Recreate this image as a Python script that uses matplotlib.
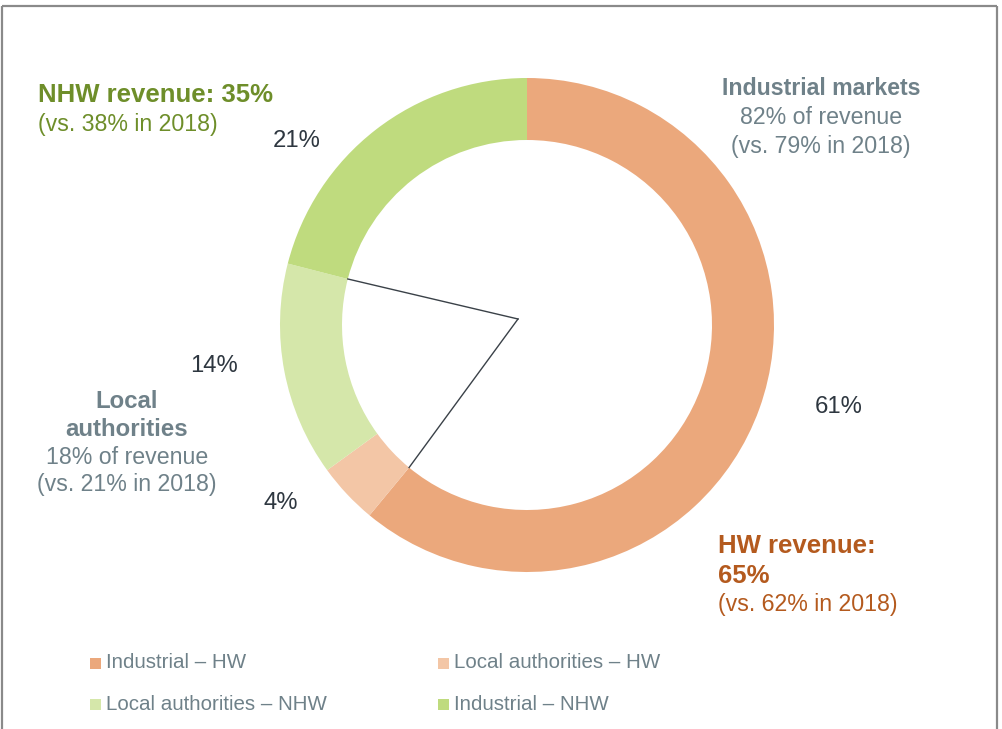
import matplotlib
matplotlib.use("Agg")
import matplotlib.pyplot as plt
from matplotlib.patches import Rectangle
import numpy as np

plt.rcParams['font.family'] = ['Liberation Sans', 'DejaVu Sans']

categories = ["Industrial – HW", "Local authorities – HW", "Local authorities – NHW", "Industrial – NHW"]
values = [61, 4, 14, 21]
colors = ["#EBA87C", "#F3C6A6", "#D5E7AA", "#BFDB7E"]
pct_labels = ["61%", "4%", "14%", "21%"]

W, H = 1002, 729
fig = plt.figure(figsize=(W / 100, H / 100), dpi=100)
ax = fig.add_axes([0, 0, 1, 1])
ax.axis("off")

def Y(py):
    return H - py

cx, cy, R, ring = 527, Y(325), 247, 62
wedges, _ = ax.pie(values, colors=colors, startangle=90, counterclock=False,
                   radius=R, center=(cx, cy),
                   wedgeprops=dict(width=ring, linewidth=0))
ax.set_xlim(0, W)
ax.set_ylim(0, H)
ax.set_aspect("auto")

# percentage labels
pct_pos = [(839, 407), (281, 503), (214, 366), (297, 141)]
for t, (px, py) in zip(pct_labels, pct_pos):
    ax.text(px, Y(py), t, ha="center", va="center", fontsize=17.2, color="#2E3740")

# connector lines for Local authorities segment
rin = R - ring
start = 90 - 360 * (values[0]) / 100
end = 90 - 360 * (values[0] + values[1] + values[2]) / 100
hub = (518, Y(319))
for a in (start, end):
    ex = cx + rin * np.cos(np.radians(a))
    ey = cy + rin * np.sin(np.radians(a))
    ax.plot([hub[0], ex], [hub[1], ey], color="#3A4148", lw=1.0)

gray = "#6F8189"
green = "#6E8E2A"
brown = "#B45A1E"
fs = 16.7
fsb = 18.5

ax.text(38, Y(95), "NHW revenue: 35%", ha="left", va="center", fontsize=fsb, fontweight="bold", color=green)
ax.text(38, Y(124), "(vs. 38% in 2018)", ha="left", va="center", fontsize=fs, color=green)

ax.text(821, Y(88), "Industrial markets", ha="center", va="center", fontsize=fs, fontweight="bold", color=gray)
ax.text(821, Y(117), "82% of revenue", ha="center", va="center", fontsize=fs, color=gray)
ax.text(821, Y(146), "(vs. 79% in 2018)", ha="center", va="center", fontsize=fs, color=gray)

ax.text(127, Y(401), "Local", ha="center", va="center", fontsize=17.3, fontweight="bold", color=gray)
ax.text(127, Y(429), "authorities", ha="center", va="center", fontsize=17.3, fontweight="bold", color=gray)
ax.text(127, Y(457), "18% of revenue", ha="center", va="center", fontsize=fs, color=gray)
ax.text(127, Y(484), "(vs. 21% in 2018)", ha="center", va="center", fontsize=fs, color=gray)

ax.text(718, Y(546), "HW revenue:", ha="left", va="center", fontsize=fsb, fontweight="bold", color=brown)
ax.text(718, Y(576), "65%", ha="left", va="center", fontsize=fsb, fontweight="bold", color=brown)
ax.text(718, Y(604), "(vs. 62% in 2018)", ha="left", va="center", fontsize=fs, color=brown)

# legend
leg_pos = [(90, 663), (438, 663), (90, 704), (438, 704)]
for (lx, ly), c, lab in zip(leg_pos, colors, categories):
    ax.add_patch(Rectangle((lx, Y(ly) - 5.5), 11, 11, color=c, lw=0))
    ax.text(lx + 16, Y(ly), lab, ha="left", va="center", fontsize=14.8, color=gray)

# border
bc = "#8A8A8A"
ax.plot([2, 2], [0, Y(6)], color=bc, lw=1.6, solid_capstyle="butt")
ax.plot([997, 997], [0, Y(6)], color=bc, lw=1.6, solid_capstyle="butt")
ax.plot([2, 997], [Y(6), Y(6)], color=bc, lw=1.6, solid_capstyle="butt")

fig.savefig("out.png", dpi=100)
